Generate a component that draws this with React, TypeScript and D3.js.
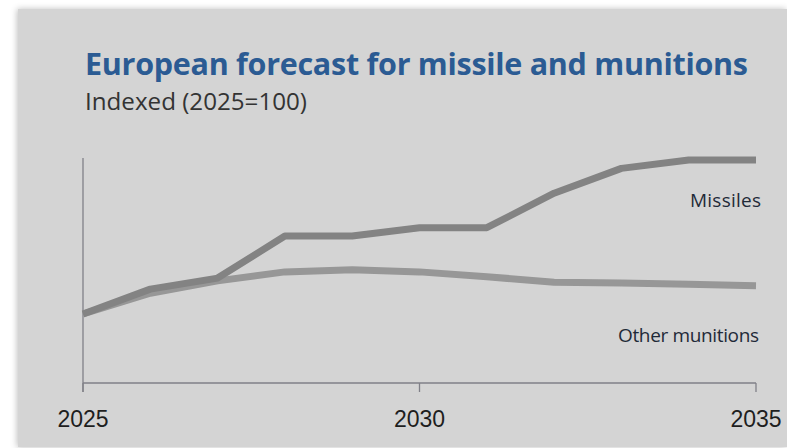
import React from "react";
import * as d3 from "d3";

const years = [2025, 2026, 2027, 2028, 2029, 2030, 2031, 2032, 2033, 2034, 2035];
const missiles = [100, 136, 152, 213, 213, 225, 225, 275, 311, 323, 323];
const otherMunitions = [100, 130, 148, 161, 164, 161, 154, 146, 145, 143, 141];
const tickYears = [2025, 2030, 2035];
const titleText = "European forecast for missile and munitions";
const subtitleText = "Indexed (2025=100)";
const seriesLabels = ["Missiles", "Other munitions"];

export default function App() {
  const W = 787, H = 448;
  const x = d3.scaleLinear().domain([2025, 2035]).range([83, 756]);
  const y = d3.scaleLinear().domain([0, 326]).range([383, 158]);
  const line = d3.line<number>().x((_, i) => x(years[i])).y((d) => y(d));

  return (
    <div style={{ position: "fixed", left: 0, top: 0, width: W, height: H, background: "#fff" }}>
      <svg width={W} height={H} style={{ display: "block" }}>
        <defs>
          <filter id="sh" x="-5%" y="-5%" width="110%" height="110%">
            <feGaussianBlur in="SourceAlpha" stdDeviation="3" />
            <feOffset dx="-1" dy="0" result="b" />
            <feFlood floodColor="#000" floodOpacity="0.25" />
            <feComposite in2="b" operator="in" />
            <feMerge>
              <feMergeNode />
              <feMergeNode in="SourceGraphic" />
            </feMerge>
          </filter>
        </defs>
        <rect x={18} y={9} width={W - 18} height={438} fill="#d4d4d4" filter="url(#sh)" />
        <text x={85} y={75} fill="#2b5b93" fontFamily="'Open Sans', sans-serif" fontWeight={700} fontSize={30.5}
          textLength={663} lengthAdjust="spacing">
          {titleText}
        </text>
        <text x={85} y={110} fill="#333" fontFamily="'Open Sans', sans-serif" fontSize={24}
          textLength={222} lengthAdjust="spacingAndGlyphs">
          {subtitleText}
        </text>
        {/* axes */}
        <line x1={x(2025)} x2={x(2025)} y1={158} y2={392} stroke="#808088" strokeWidth={1.3} />
        <line x1={x(2025)} x2={x(2035)} y1={383} y2={383} stroke="#808088" strokeWidth={1.3} />
        {tickYears.map((t) => (
          <g key={t}>
            <line x1={x(t)} x2={x(t)} y1={383} y2={392} stroke="#808088" strokeWidth={1.3} />
            <text x={x(t)} y={427} textAnchor="middle" fill="#1e1e1e" fontFamily="'Liberation Sans', Arial, sans-serif" fontSize={23}>
              {t}
            </text>
          </g>
        ))}
        <path d={line(otherMunitions) || ""} fill="none" stroke="#979797" strokeWidth={7} strokeLinejoin="round" />
        <path d={line(missiles) || ""} fill="none" stroke="#838383" strokeWidth={7} strokeLinejoin="round" />
        <text x={690} y={207} fill="#1f2a38" fontFamily="'Open Sans', sans-serif" fontSize={19}
          textLength={71} lengthAdjust="spacing">
          {seriesLabels[0]}
        </text>
        <text x={618} y={342} fill="#1f2a38" fontFamily="'Open Sans', sans-serif" fontSize={19}
          textLength={141} lengthAdjust="spacing">
          {seriesLabels[1]}
        </text>
      </svg>
    </div>
  );
}
